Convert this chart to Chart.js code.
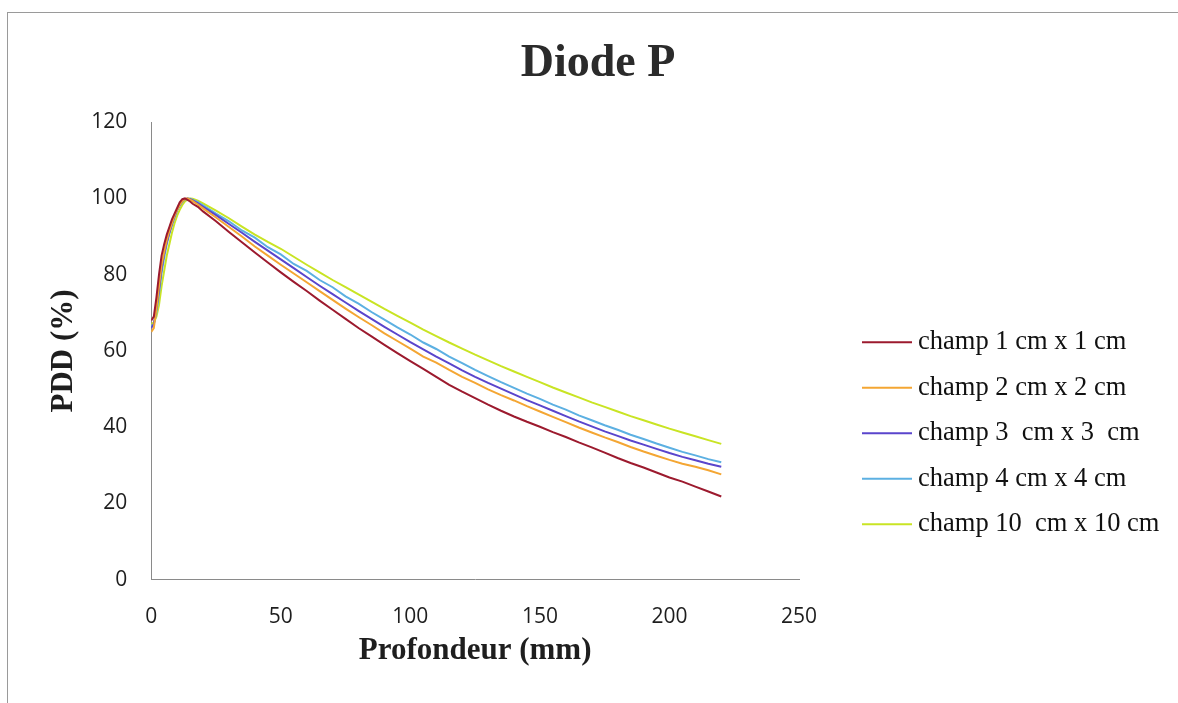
<!DOCTYPE html>
<html>
<head>
<meta charset="utf-8">
<title>Diode P</title>
<script src="https://cdn.jsdelivr.net/npm/chart.js@4.4.1/dist/chart.umd.min.js"></script>
<style>
  html, body { margin: 0; padding: 0; background: #fff; overflow: hidden; }
  #frame {
    position: absolute; left: 7px; top: 12px;
    border-top: 1px solid #9a9a9a; border-left: 1px solid #9a9a9a;
  }
  #pddChart { display: block; }
</style>
</head>
<body>
<div id="frame"><canvas id="pddChart" width="1180" height="690"></canvas></div>
<script>
// depth points (mm), shared by every field size
const depth = [0, 1, 2, 3, 4, 5, 6, 7, 8, 9, 10, 11, 12, 13, 14, 15, 16, 18, 20,
  25, 30, 35, 40, 45, 50, 55, 60, 65, 70, 75, 80, 85, 90, 95, 100, 105, 110, 115, 120,
  125, 130, 135, 140, 145, 150, 155, 160, 165, 170, 175, 180, 185, 190, 195, 200, 205,
  210, 215, 220];

const fieldLabels = ['champ 1 cm x 1 cm', 'champ 2 cm x 2 cm', 'champ 3  cm x 3  cm',
  'champ 4 cm x 4 cm', 'champ 10  cm x 10 cm'];

const pdd1x1 = [68, 69, 74, 80, 85, 88, 90.5, 92.5, 94.5, 96, 97.5, 99, 99.8, 100, 99.6, 99.2, 98.6, 97.8, 96.6,
  94, 91.2, 88.5, 85.8, 83.2, 80.6, 78.1, 75.7, 73.2, 70.8, 68.4, 66.0, 63.8, 61.6, 59.4, 57.3, 55.3, 53.2, 51.1, 49.3,
  47.6, 45.9, 44.3, 42.8, 41.4, 40.1, 38.7, 37.4, 36.0, 34.7, 33.3, 31.9, 30.6, 29.4, 28.1, 26.8, 25.7,
  24.4, 23.1, 21.8];

const pdd2x2 = [65, 66, 71, 77, 82.5, 86, 89, 91.5, 93.5, 95.5, 97, 98.3, 99.3, 99.8, 100, 99.7, 99.3, 98.4, 97.4,
  95, 92.5, 90, 87.4, 85, 82.6, 80.3, 78.0, 75.7, 73.4, 71.1, 68.9, 66.8, 64.6, 62.6, 60.6, 58.5, 56.9, 55.0, 53.2,
  51.6, 49.9, 48.4, 47.0, 45.5, 44.1, 42.7, 41.3, 39.9, 38.6, 37.3, 36.1, 34.8, 33.6, 32.5, 31.4, 30.4,
  29.6, 28.7, 27.6];

const pdd3x3 = [66, 67, 71, 76, 81.5, 85.5, 88.5, 91, 93.3, 95.3, 97, 98.3, 99.3, 99.8, 100, 99.8, 99.5, 98.7, 97.8,
  95.6, 93.3, 91, 88.6, 86.3, 84.0, 81.7, 79.4, 77.1, 74.9, 72.7, 70.5, 68.4, 66.3, 64.3, 62.3, 60.4, 58.5, 56.7, 54.9,
  53.2, 51.6, 50.1, 48.6, 47.1, 45.7, 44.3, 42.9, 41.5, 40.2, 38.9, 37.7, 36.5, 35.4, 34.3, 33.2, 32.2,
  31.3, 30.4, 29.6];

const pdd4x4 = [66.5, 67, 70, 75, 80.5, 84.5, 88, 90.8, 93, 95, 96.8, 98.1, 99.1, 99.7, 100, 99.9, 99.6, 99.0, 98.2,
  96.0, 94.0, 91.6, 89.7, 87.2, 85.3, 82.8, 81.0, 78.6, 76.7, 74.3, 72.4, 70.2, 68.2, 66.2, 64.3, 62.2, 60.5, 58.5, 56.8,
  55.0, 53.4, 51.8, 50.3, 48.8, 47.4, 45.9, 44.6, 43.1, 41.8, 40.5, 39.3, 38.0, 36.9, 35.7, 34.6, 33.5,
  32.6, 31.6, 30.8];

const pdd10x10 = [67, 67.5, 69, 72, 77, 81, 85, 88, 91, 93.5, 95.5, 97, 98.3, 99.2, 99.8, 100, 99.9, 99.4, 98.7,
  96.8, 94.8, 92.6, 90.5, 88.6, 86.8, 84.7, 82.6, 80.6, 78.6, 76.7, 74.8, 72.9, 71.0, 69.2, 67.4, 65.6, 63.9, 62.2, 60.6,
  59.0, 57.5, 56.0, 54.6, 53.2, 51.8, 50.4, 49.1, 47.8, 46.5, 45.3, 44.1, 42.9, 41.8, 40.7, 39.6, 38.6,
  37.6, 36.6, 35.6];

const lineColors = ['#9c1a2e', '#f4a633', '#5a45cc', '#5cb0e2', '#c9e424'];

const xTicks = [0, 50, 100, 150, 200, 250];
const yTicks = [0, 20, 40, 60, 80, 100, 120];

function toPoints(values) {
  return values.map((v, i) => ({ x: depth[i], y: v }));
}

const series = [pdd1x1, pdd2x2, pdd3x3, pdd4x4, pdd10x10];

// legend on the right: short line sample followed by the serif label
const sideLegend = {
  id: 'sideLegend',
  afterDraw(chart, args, opts) {
    const ctx = chart.ctx;
    const area = chart.chartArea;
    ctx.save();
    ctx.font = opts.font;
    ctx.textBaseline = 'middle';
    chart.data.datasets.forEach((ds, i) => {
      const x = area.right + opts.offsetX;
      const y = area.top + opts.offsetY + i * opts.rowGap;
      ctx.strokeStyle = ds.borderColor;
      ctx.lineWidth = 2;
      ctx.beginPath();
      ctx.moveTo(x, y);
      ctx.lineTo(x + opts.lineLength, y);
      ctx.stroke();
      ctx.fillStyle = '#111';
      ctx.fillText(ds.label, x + opts.lineLength + 6, y);
    });
    ctx.restore();
  }
};

const serif = '"Liberation Serif", "Times New Roman", serif';

new Chart(document.getElementById('pddChart'), {
  type: 'line',
  data: {
    datasets: series.map((vals, i) => ({
      label: fieldLabels[i],
      data: toPoints(vals),
      borderColor: lineColors[i],
      backgroundColor: lineColors[i],
      borderWidth: 2,
      pointRadius: 0,
      tension: 0,
      fill: false
    }))
  },
  options: {
    responsive: false,
    animation: false,
    plugins: {
      legend: { display: false },
      tooltip: { enabled: false },
      title: {
        display: true,
        text: 'Diode P',
        color: '#2b2b2b',
        font: { family: serif, size: 46, weight: 'bold' },
        padding: { top: 24, bottom: 30 }
      },
      sideLegend: {
        font: '26.5px ' + serif,
        offsetX: 63,
        offsetY: 220,
        rowGap: 45.5,
        lineLength: 50
      }
    },
    scales: {
      x: {
        type: 'linear',
        min: 0,
        max: 250,
        grid: { display: false, drawTicks: false },
        border: { display: true, color: '#8a8a8a', width: 1 },
        afterBuildTicks: axis => { axis.ticks = xTicks.map(v => ({ value: v })); },
        ticks: {
          padding: 25,
          color: '#1e1e1e',
          font: { family: '"Open Sans", sans-serif', size: 21 }
        },
        title: {
          display: true,
          text: 'Profondeur (mm)',
          color: '#1e1e1e',
          font: { family: serif, size: 31, weight: 'bold' },
          padding: { top: -22, bottom: 33 }
        }
      },
      y: {
        min: 0,
        max: 120,
        grid: { display: false, drawTicks: false },
        border: { display: true, color: '#8a8a8a', width: 1 },
        afterBuildTicks: axis => { axis.ticks = yTicks.map(v => ({ value: v })); },
        ticks: {
          padding: 24,
          color: '#1e1e1e',
          font: { family: '"Open Sans", sans-serif', size: 21 }
        },
        title: {
          display: true,
          text: 'PDD (%)',
          color: '#1e1e1e',
          font: { family: serif, size: 31, weight: 'bold' },
          padding: { top: 37, bottom: -15 }
        }
      },
      // empty right-hand axis that keeps room for the legend
      legendRoom: {
        type: 'linear',
        position: 'right',
        grid: { display: false, drawTicks: false },
        border: { display: false },
        ticks: { display: false },
        afterFit: axis => { axis.width = 389; }
      }
    }
  },
  plugins: [sideLegend]
});
</script>
</body>
</html>
